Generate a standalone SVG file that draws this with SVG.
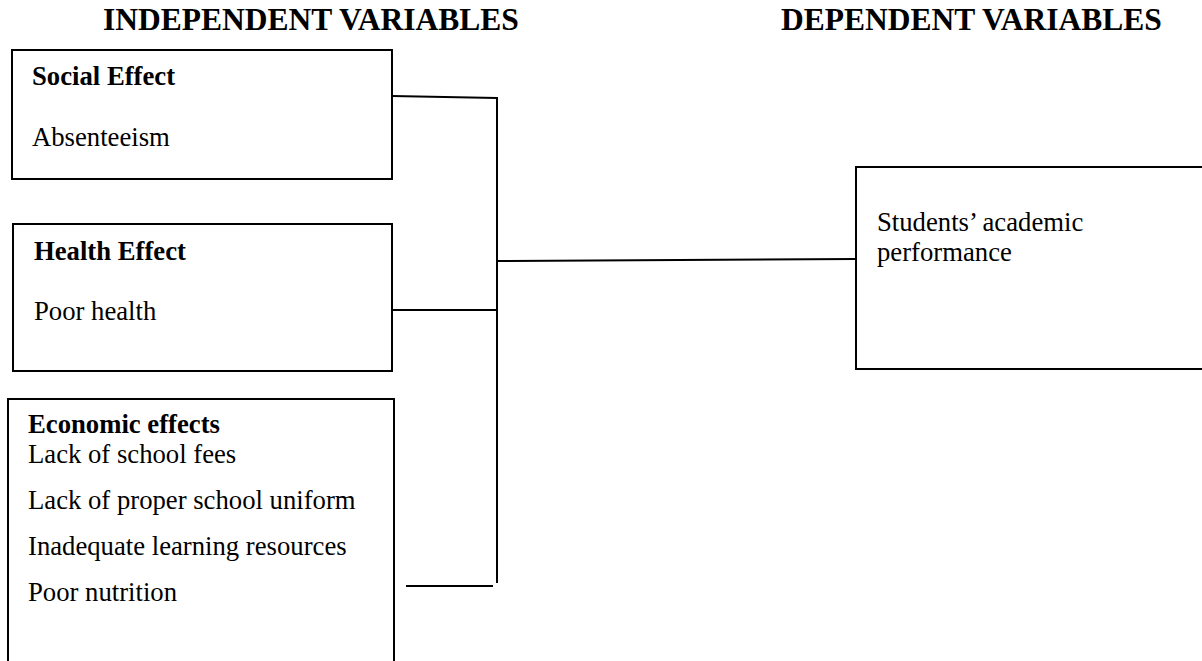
<svg xmlns="http://www.w3.org/2000/svg" width="1202" height="661" viewBox="0 0 1202 661">
<style>
.box{fill:#fff;stroke:#000;stroke-width:2}
.ln{fill:none;stroke:#000;stroke-width:2}
.t{font-family:"Liberation Serif","Times New Roman",serif;font-size:26.7px;fill:#000}
.b{font-weight:bold}
.h{font-family:"Liberation Serif","Times New Roman",serif;font-size:31.5px;font-weight:bold;fill:#000}
</style>
<rect width="1202" height="661" fill="#fff"/>
<g id="headers">
<text class="h" x="103" y="30">INDEPENDENT VARIABLES</text>
<text class="h" x="781" y="30">DEPENDENT VARIABLES</text>
</g>
<g id="connectors">
<path class="ln" d="M392 96 L497 98"/>
<path class="ln" d="M497 97 L497 583"/>
<path class="ln" d="M392 310 L497 310"/>
<path class="ln" d="M497 261 L856 259"/>
<path class="ln" d="M406 586 L493 586"/>
</g>
<g id="social">
<rect class="box" x="12" y="50" width="380" height="129"/>
<text class="t b" x="32" y="85">Social Effect</text>
<text class="t" x="32" y="146">Absenteeism</text>
</g>
<g id="health">
<rect class="box" x="13" y="224" width="379" height="147"/>
<text class="t b" x="34" y="260">Health Effect</text>
<text class="t" x="34" y="320">Poor health</text>
</g>
<g id="economic">
<rect class="box" x="8" y="399" width="386" height="300"/>
<text class="t b" x="28" y="433">Economic effects</text>
<text class="t" x="28" y="463">Lack of school fees</text>
<text class="t" x="28" y="509">Lack of proper school uniform</text>
<text class="t" x="28" y="555">Inadequate learning resources</text>
<text class="t" x="28" y="601">Poor nutrition</text>
</g>
<g id="performance">
<rect class="box" x="856" y="167" width="400" height="202"/>
<text class="t" x="877" y="231">Students’ academic</text>
<text class="t" x="877" y="261">performance</text>
</g>
</svg>
